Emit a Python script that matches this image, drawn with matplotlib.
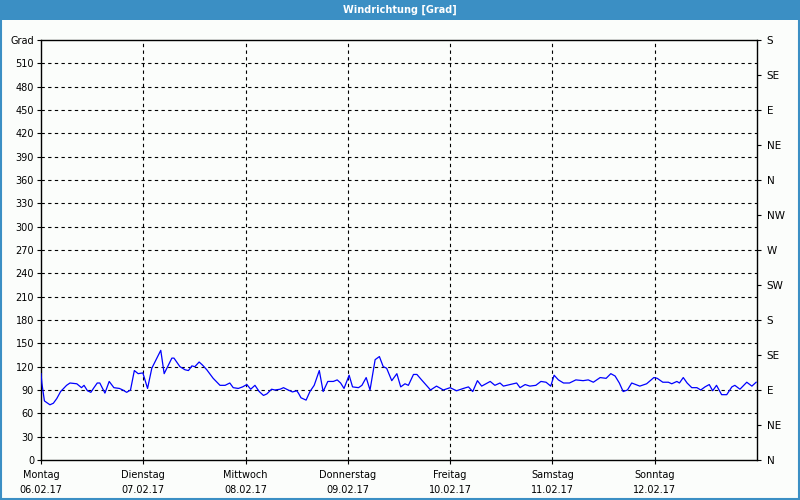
import matplotlib
matplotlib.use("Agg")
import matplotlib.pyplot as plt
from matplotlib.patches import Rectangle

title = "Windrichtung [Grad]"
day_names = ["Montag", "Dienstag", "Mittwoch", "Donnerstag", "Freitag", "Samstag", "Sonntag"]
day_dates = ["06.02.17", "07.02.17", "08.02.17", "09.02.17", "10.02.17", "11.02.17", "12.02.17"]
left_ticks = [0, 30, 60, 90, 120, 150, 180, 210, 240, 270, 300, 330, 360, 390, 420, 450, 480, 510, 540]
left_labels = [str(v) for v in left_ticks[:-1]] + ["Grad"]
right_ticks = [0, 45, 90, 135, 180, 225, 270, 315, 360, 405, 450, 495, 540]
right_labels = ["N", "NE", "E", "SE", "S", "SW", "W", "NW", "N", "NE", "E", "SE", "S"]

# hours since Monday 00:00
hours = [0, 0.2, 0.8, 1.3, 2.1, 2.9, 3.7, 4.6, 6.0, 6.8, 8.4, 9.5, 10.1, 10.9, 11.7, 12.3,
         13.2, 13.8, 15.0, 16.0, 17.1, 18.4, 19.2, 20.1, 21.0, 21.9, 22.8, 23.9, 25.0, 26.0,
         27.0, 28.1, 28.9, 29.9, 30.7, 31.2, 32.6, 33.8, 34.6, 35.4, 36.1, 37.1, 37.9, 38.9,
         40.4, 42.0, 43.2, 44.3, 45.1, 46.3, 47.3, 48.3, 49.2, 50.2, 51.2, 52.2, 53.0, 54.1,
         54.9, 56.1, 56.9, 58.0, 59.0, 60.0, 60.4, 61.0, 62.2, 63.1, 64.1, 65.3, 66.2, 67.3,
         68.6, 69.5, 70.3, 71.1, 72.3, 73.1, 74.5, 75.3, 76.3, 77.2, 78.4, 79.4, 80.3, 81.1,
         82.3, 83.5, 84.4, 85.4, 86.2, 87.4, 88.2, 89.3, 91.4, 92.8, 94.4, 96.0, 97.5, 99.1,
         100.3, 101.3, 102.4, 103.4, 105.4, 106.5, 107.7, 108.5, 111.6, 112.4, 113.6, 114.7,
         116.1, 117.3, 118.5, 119.6, 120.4, 121.4, 122.6, 124.0, 125.5, 127.2, 128.4, 129.6,
         131.2, 132.6, 133.7, 134.7, 135.7, 136.6, 137.6, 138.6, 140.5, 142.1, 143.8, 144.6,
         145.9, 147.2, 148.0, 149.2, 149.8, 150.7, 151.6, 152.7, 153.9, 154.8, 155.8, 156.8,
         157.6, 158.5, 159.7, 160.9, 162.1, 162.8, 164.0, 165.6, 166.8, 167.8]
direction = [111, 99, 76, 74, 71, 73, 79, 88, 96, 99, 98, 93, 96, 89, 87, 92,
             99, 99, 86, 101, 93, 92, 90, 87, 90, 115, 111, 112, 92, 118,
             129, 141, 111, 122, 131, 131, 120, 116, 115, 121, 120, 126, 122, 116,
             105, 96, 96, 99, 93, 92, 94, 97, 91, 96, 88, 83, 85, 91,
             90, 91, 93, 90, 87.5, 89, 86, 80, 77, 88, 96, 115, 88, 101,
             101, 103, 99, 92, 109, 94, 93, 96, 106, 90, 129, 133, 120, 118,
             102, 111, 94, 98, 96, 110, 110, 103, 90, 95, 90, 93, 89, 92,
             94, 88, 102, 95, 101, 96, 99, 95, 99, 93, 97, 95,
             96, 101, 100, 95, 109, 103, 99, 99, 103, 102, 103, 100,
             106, 105, 111, 108, 99, 88, 90, 99, 95, 98, 106, 105,
             100, 100, 98, 101, 99, 106, 99, 93, 93, 90, 94, 97,
             89, 96, 84, 84, 94, 96, 91, 100, 95, 100]

BG = "#fbfdfb"
BLUE = "#3b8fc4"

fig = plt.figure(figsize=(8, 5), dpi=100, facecolor=BG)
ax = fig.add_axes([41 / 800, 40 / 500, 716 / 800, 420 / 500], facecolor=BG)

ax.plot(hours, direction, color="#0000ff", lw=0.9, zorder=3)

ax.set_xlim(0, 168)
ax.set_ylim(0, 540)

grid_kw = dict(color="black", lw=0.8, linestyle=(0, (3, 3)), zorder=1)
for v in left_ticks[1:-1]:
    ax.axhline(v, **grid_kw)
for d in range(1, 7):
    ax.axvline(d * 24, **grid_kw)

for s in ax.spines.values():
    s.set_color("black")
    s.set_linewidth(1.0)

ax.set_yticks(left_ticks)
ax.set_yticklabels(left_labels)
ax.tick_params(axis="y", direction="out", length=3, width=0.8, labelsize=7, pad=2)
ax.set_xticks([d * 24 for d in range(7)])
ax.set_xticklabels([f"{n}\n{dt}" for n, dt in zip(day_names, day_dates)], linespacing=1.65)
ax.tick_params(axis="x", direction="out", length=3, width=0.8, labelsize=7, pad=4)

ax2 = ax.twinx()
ax2.set_ylim(0, 540)
ax2.set_yticks(right_ticks)
ax2.set_yticklabels(right_labels)
ax2.tick_params(axis="y", direction="out", length=3, width=0.8, labelsize=7.5, pad=4)
for s in ax2.spines.values():
    s.set_visible(False)

# title bar and frame
fig.patches.append(Rectangle((0, 1 - 20 / 500), 1, 20 / 500, transform=fig.transFigure,
                             facecolor=BLUE, edgecolor="none", zorder=0))
fig.patches.append(Rectangle((0.001, 0.002), 0.998, 0.997, transform=fig.transFigure,
                             facecolor="none", edgecolor=BLUE, lw=1.5, zorder=0))
fig.text(0.5, 1 - 10 / 500, title, color="white", fontsize=7, fontweight="bold",
         ha="center", va="center")

fig.savefig("out.png", dpi=100, facecolor=BG)
